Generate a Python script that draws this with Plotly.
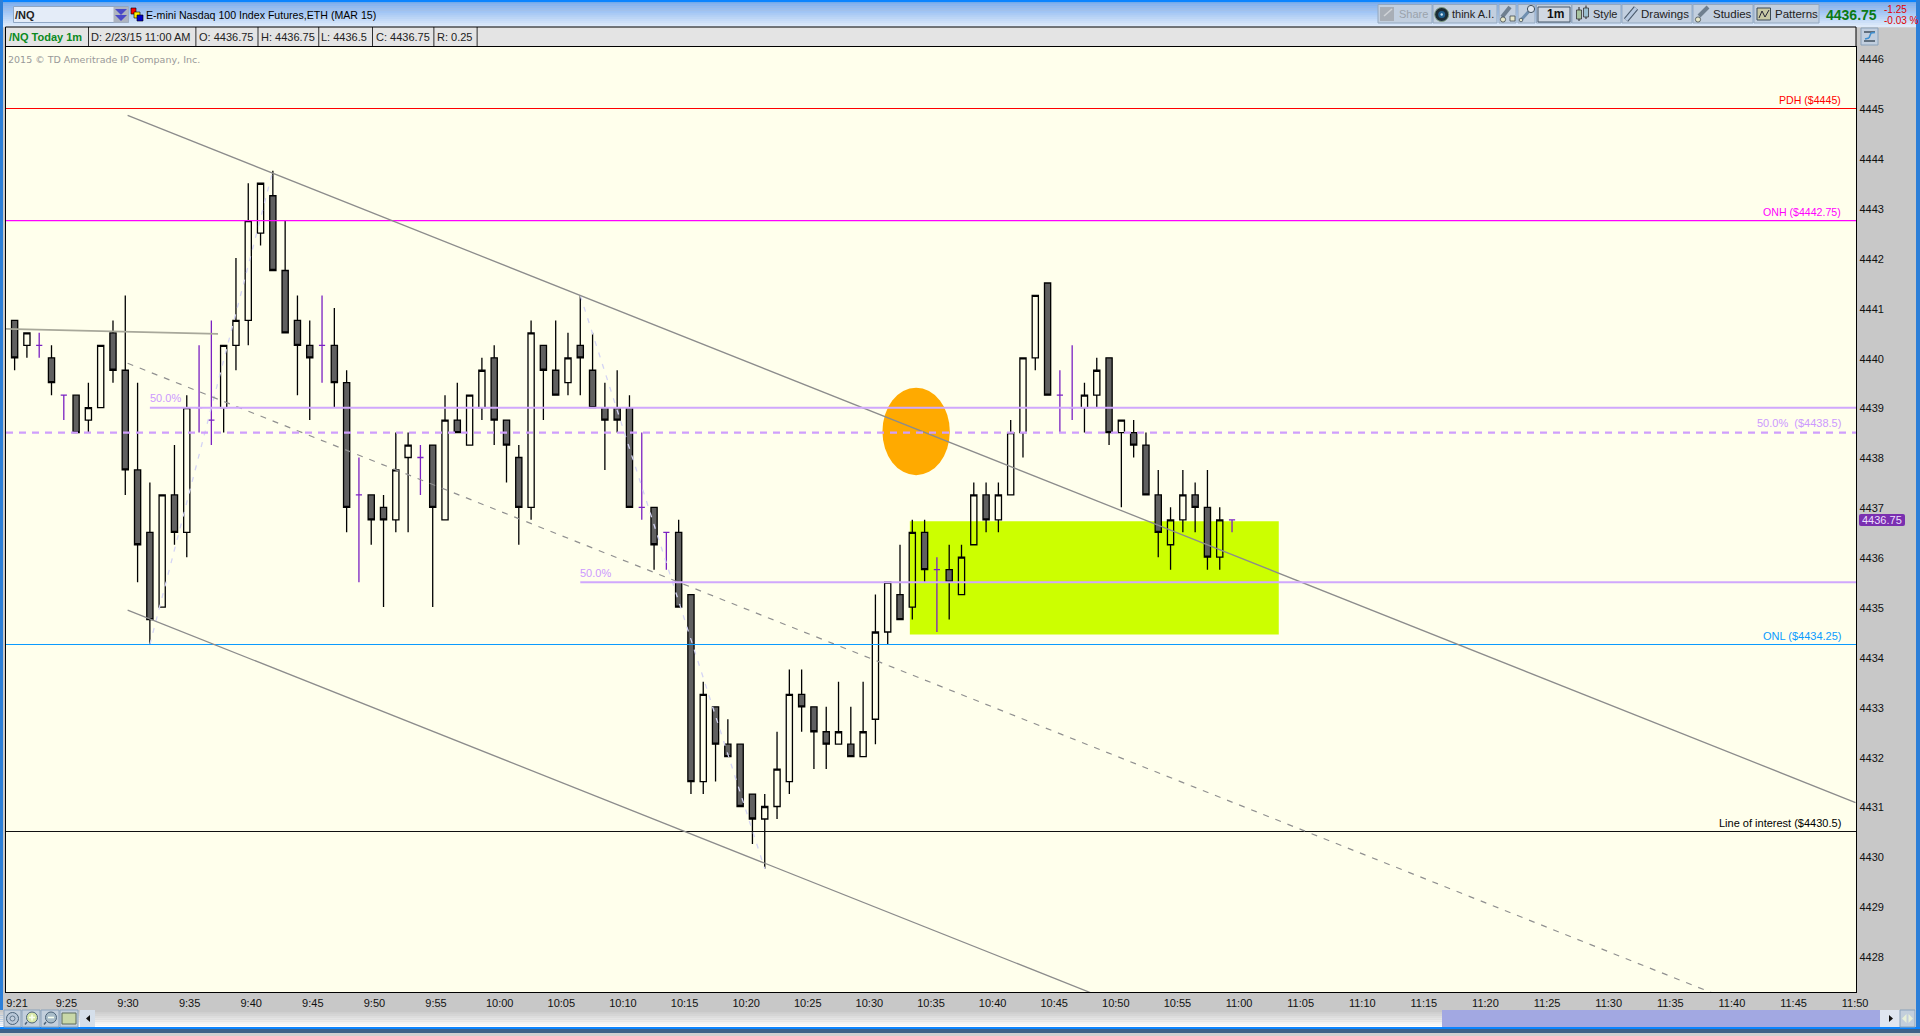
import plotly.graph_objects as go

# ---- data -----------------------------------------------------------------
open_ = [4440.75,4440.25,4440.25,4440.0,4439.25,4439.25,4438.75,4439.0,4440.5,4439.75,4437.75,4436.5,4435.0,4437.25,4436.5,4439.0,4438.75,4439.0,4440.25,4440.75,
         4442.5,4443.25,4441.75,4440.75,4440.25,4440.25,4440.25,4439.5,4437.25,4437.25,4437.0,4436.75,4438.0,4438.0,4438.25,4436.75,4438.75,4438.25,4439.0,4440.0,
         4438.75,4438.0,4437.0,4440.25,4439.75,4439.5,4440.25,4439.75,4439.0,4439.0,4439.0,4437.0,4437.0,4436.5,4436.5,4435.25,4431.5,4433.0,4432.25,4432.25,
         4431.25,4430.75,4431.0,4431.5,4433.25,4433.0,4432.5,4432.25,4432.25,4432.0,4432.75,4434.5,4435.25,4435.0,4436.5,4435.75,4435.75,4435.25,4436.25,4437.25,
         4436.75,4437.25,4438.5,4440.0,4441.5,4439.25,4439.0,4439.0,4439.25,4440.0,4438.5,4438.5,4438.25,4437.25,4436.25,4436.75,4437.25,4437.0,4436.0,4436.75]
high = [4440.75,4440.5,4440.5,4440.25,4439.25,4439.25,4439.5,4440.25,4440.75,4441.25,4439.5,4437.5,4437.25,4438.25,4439.25,4440.25,4440.75,4440.25,4442.0,4443.5,
        4443.5,4443.75,4442.75,4441.25,4440.75,4441.25,4441.0,4439.75,4438.0,4437.25,4437.25,4438.5,4438.5,4438.25,4438.25,4439.25,4439.5,4439.25,4440.0,4440.25,
        4438.75,4438.25,4440.75,4440.25,4440.75,4440.5,4441.25,4440.5,4439.5,4439.75,4439.25,4438.5,4437.0,4436.5,4436.75,4435.25,4433.5,4433.0,4432.75,4432.25,
        4431.25,4431.25,4432.5,4433.75,4433.75,4433.0,4433.0,4433.5,4433.0,4433.5,4435.25,4435.5,4436.25,4436.75,4436.75,4436.0,4436.25,4436.25,4437.5,4437.5,
        4437.5,4438.75,4440.0,4441.25,4441.5,4439.75,4440.25,4439.5,4440.0,4440.0,4438.75,4438.75,4438.5,4437.75,4437.0,4437.75,4437.5,4437.75,4437.0,4436.75]
low = [4439.75,4440.0,4440.0,4439.25,4438.75,4438.5,4438.5,4439.0,4439.5,4437.25,4435.5,4434.25,4435.0,4436.25,4436.0,4438.5,4438.25,4438.5,4439.75,4440.25,
       4442.25,4441.75,4440.5,4439.25,4438.75,4439.5,4439.0,4436.5,4435.5,4436.25,4435.0,4436.5,4436.5,4437.25,4435.0,4436.75,4438.5,4438.25,4438.75,4438.25,
       4437.5,4436.25,4436.75,4438.75,4439.25,4439.25,4439.25,4439.0,4437.75,4438.5,4437.0,4436.75,4435.75,4435.75,4435.0,4431.25,4431.25,4431.5,4432.0,4431.0,
       4430.25,4429.75,4430.75,4431.25,4432.5,4431.75,4431.75,4432.25,4432.0,4432.0,4432.25,4434.25,4434.75,4434.75,4435.5,4434.5,4434.75,4435.25,4436.25,4436.5,
       4436.5,4437.25,4438.0,4439.75,4439.25,4438.5,4438.75,4438.5,4439.0,4438.25,4437.0,4438.0,4437.25,4436.0,4435.75,4436.5,4436.5,4435.75,4435.75,4436.5]
close = [4440.0,4440.5,4440.25,4439.5,4439.25,4438.5,4439.0,4440.25,4439.75,4437.75,4436.25,4434.75,4437.25,4436.5,4439.0,4439.0,4438.75,4440.25,4440.75,4442.75,
         4443.5,4441.75,4440.5,4440.25,4440.0,4440.25,4439.5,4437.0,4437.25,4436.75,4436.75,4437.75,4438.25,4438.0,4437.0,4438.75,4438.5,4439.25,4439.75,4438.75,
         4438.25,4437.0,4440.5,4439.75,4439.25,4440.0,4440.0,4439.0,4438.75,4438.75,4437.0,4437.0,4436.25,4436.5,4435.0,4431.5,4433.25,4432.25,4432.0,4431.0,
         4430.75,4431.0,4431.75,4433.25,4433.0,4432.5,4432.25,4432.5,4432.0,4432.5,4434.5,4435.5,4434.75,4436.5,4435.75,4435.75,4435.5,4436.0,4437.25,4436.75,
         4437.25,4438.5,4440.0,4441.25,4439.25,4439.25,4439.0,4439.25,4439.75,4438.5,4438.75,4438.25,4437.25,4436.5,4436.75,4437.25,4437.0,4436.0,4436.75,4436.75]
bar_index = list(range(len(close)))

x_tick_labels = ["9:21","9:25","9:30","9:35","9:40","9:45","9:50","9:55","10:00","10:05","10:10","10:15","10:20","10:25","10:30",
                 "10:35","10:40","10:45","10:50","10:55","11:00","11:05","11:10","11:15","11:20","11:25","11:30","11:35","11:40","11:45","11:50"]
y_ticks = [4428,4429,4430,4431,4432,4433,4434,4435,4436,4437,4438,4439,4440,4441,4442,4443,4444,4445,4446]

x_range = [-0.70, 149.74]
y_range = [4427.28, 4446.233]

upper_channel_x = [9.19, 149.7]
upper_channel_y = [4444.86, 4431.08]
mid_channel_x = [9.19, 149.7]
mid_channel_y = [4439.89, 4426.12]
lower_channel_x = [9.19, 149.7]
lower_channel_y = [4434.94, 4421.17]
flat_line_x = [-0.70, 16.54]
flat_line_y = [4440.58, 4440.48]
swing_up_x = [11, 21]
swing_up_y = [4434.25, 4443.75]
swing_down_x = [46, 61]
swing_down_y = [4441.25, 4429.75]

pdh_level = 4445
onh_level = 4442.75
onl_level = 4434.25
interest_level = 4430.5
fib_a_level = 4439
fib_a_start = 11
fib_b_level = 4435.5
fib_b_start = 46
fib_mid_level = 4438.5

zone_x = [72.8, 102.8]
zone_y = [4434.45, 4436.72]
ellipse_x = [70.57, 76.05]
ellipse_y = [4437.645, 4439.40]

# ---- helpers --------------------------------------------------------------
W, H = 1920, 1036
PL, PR, PT, PB = 6, 1856, 47, 992
def px(x): return (x - PL) / (PR - PL)
def py(y): return 1 - (y - PT) / (PB - PT)
FONT = "Liberation Sans"

shapes = []
annots = []
def rect(x0, y0, x1, y1, fill, line=None, lw=1):
    shapes.append(dict(type="rect", xref="paper", yref="paper", x0=px(x0), x1=px(x1), y0=py(y0), y1=py(y1),
                       fillcolor=fill, line=dict(color=line or "rgba(0,0,0,0)", width=lw if line else 0), layer="below"))
def oval(cx, cy, r, fill, line=None, lw=1):
    shapes.append(dict(type="circle", xref="paper", yref="paper", x0=px(cx - r), x1=px(cx + r), y0=py(cy - r), y1=py(cy + r),
                       fillcolor=fill, line=dict(color=line or "rgba(0,0,0,0)", width=lw if line else 0), layer="below"))
def seg(x0, y0, x1, y1, color, w=1):
    shapes.append(dict(type="line", xref="paper", yref="paper", x0=px(x0), x1=px(x1), y0=py(y0), y1=py(y1),
                       line=dict(color=color, width=w), layer="below"))
def poly(points, fill):
    d = "M " + " L ".join(f"{px(a)} {py(b)}" for a, b in points) + " Z"
    shapes.append(dict(type="path", xref="paper", yref="paper", layer="below", line=dict(width=0), fillcolor=fill, path=d))
def text(x, y, s, color="#000", size=11, anchor="left", family=FONT):
    annots.append(dict(xref="paper", yref="paper", x=px(x), y=py(y), text=s, showarrow=False, xanchor=anchor, yanchor="middle",
                       font=dict(family=family, size=size, color=color), borderpad=0, borderwidth=0))
def lerp(a, b, t):
    return "#%02x%02x%02x" % tuple(round(a[i] + (b[i] - a[i]) * t) for i in range(3))

# window frame
rect(0, 0, 1920, 2.5, "#0a84ff")
for k in range(12):
    y0 = 2.5 + k * 2.05
    rect(0, y0, 1920, y0 + 2.2, lerp((125, 175, 240), (222, 234, 250), k / 11))
rect(0, 0, 3, 1032, "#2c7fd8")
rect(1916, 0, 1920, 1032, "#2c7fd8")
rect(5.5, 27, 1856, 46.5, "#e4e4e4", "#000", 1)
for sx in [88, 195.5, 257.6, 318.4, 372, 433.5, 476.7]:
    rect(sx, 27, sx + 0.8, 46.5, "#000")
# bottom strip
for k in range(9):
    y0 = 1010 + k * 1.9
    rect(0, y0, 1442, y0 + 2, lerp((200, 200, 200), (255, 255, 255), k / 8))
rect(1442, 1010, 1880, 1027, "#a2a8e2")
rect(1880, 1010, 1916, 1027, "#dfe6f0")
rect(0, 1027, 1920, 1029, "#0a84ff")
rect(0, 1029, 1920, 1033, "#3d6288")
rect(0, 1033, 1920, 1036, "#d0d0d0")
rect(80, 1010, 95, 1027, "#d5dfea")
poly([(86, 1018.5), (90, 1015), (90, 1022)], "#111")
poly([(1889, 1015), (1893, 1018.5), (1889, 1022)], "#111")
for x0, x1 in [(4, 21), (22, 40), (41, 59), (60, 78)]:
    rect(x0, 1010, x1, 1027, "#c3cfdc", "#8aa2bb", 1)
oval(12.5, 1018.5, 6, "#b9c8d8", "#4b6278", 1)
oval(12.5, 1018.5, 2.5, "#c3cfdc", "#4b6278", 0.8)
oval(32, 1017.5, 5.5, "#d8e8a8", "#4b6278", 1)
seg(29, 1017.5, 35, 1017.5, "#f8fff0", 1.6)
seg(32, 1014.5, 32, 1020.5, "#f8fff0", 1.6)
seg(27, 1022, 25, 1024.5, "#4b6278", 1.5)
oval(51, 1017.5, 5.5, "#a8bcc8", "#4b6278", 1)
seg(48, 1017.5, 54, 1017.5, "#f8fff0", 1.6)
seg(46, 1022, 44, 1024.5, "#4b6278", 1.5)
rect(62, 1013, 76, 1024, "#c9d8a8", "#5d6d5d", 1)
rect(1900, 1010, 1915, 1027, "#c3cfdc", "#8aa2bb", 1)
poly([(1906.5, 1014), (1902, 1018.5), (1906.5, 1023)], "#e8f0d8")
poly([(1908.5, 1014), (1913, 1018.5), (1908.5, 1023)], "#e8f0d8")

# header
rect(13.5, 6.5, 128.5, 22.5, "#e4ecf8", "#8fa6c4", 1)
rect(113.5, 7, 128.5, 22.5, "#aeb4bf")
text(15, 15, "<b>/NQ</b>", "#222", 11)
poly([(115, 9), (127, 9), (121, 15)], "#4a4ac8")
poly([(115, 15), (127, 15), (121, 21)], "#4a4ac8")
rect(131, 8, 136, 14, "#ff0000", "#000", 0.6)
rect(134, 12, 140, 18, "#ffee00", "#000", 0.6)
rect(137, 15, 143, 21, "#0000cc", "#000", 0.6)
text(145.5, 15, "E-mini Nasdaq 100 Index Futures,ETH (MAR 15)", "#000", 10.6)
text(9, 37.5, "<b>/NQ Today 1m</b>", "#0a8a1e", 11)
for tx, s in [(91, "D: 2/23/15 11:00 AM"), (199, "O: 4436.75"), (260.5, "H: 4436.75"), (321, "L: 4436.5"),
              (375.5, "C: 4436.75"), (436.5, "R: 0.25")]:
    text(tx, 37.5, s, "#222", 11)
text(8, 60, "2015 © TD Ameritrade IP Company, Inc.", "#999", 9.5, family="DejaVu Sans")

# toolbar
buttons = [(1378, 1432), (1433, 1497), (1499, 1516), (1518, 1535), (1536.5, 1571.5), (1572, 1621), (1622, 1692), (1693, 1753), (1754, 1819)]
for x0, x1 in buttons:
    rect(x0, 4.5, x1, 23, "#c2cfdf", "#93a8c0", 1)
rect(1538, 7, 1570, 22, "#d0d8e2", "#44566a", 1)
rect(1380, 7, 1394, 21, "#a8aeb6")
seg(1384, 16, 1392, 9, "#d0d4d8", 1.6)
oval(1441.7, 14.5, 7, "#1c2c36", "#7d9a80", 1)
oval(1441.7, 14.5, 3.5, "#20608f")
oval(1441.7, 14.5, 1.2, "#d5e8f5")
seg(1502, 17, 1510, 7, "#6f7f8f", 4)
oval(1503, 19.5, 2.6, "#e6e6c8", "#404a50", 0.8)
rect(1510, 16, 1515, 21, "#e6e6c8", "#404a50", 0.8)
seg(1521, 20, 1530, 10, "#6f8fb0", 3)
oval(1531, 9, 3.6, "#dfe6ee", "#40505f", 1)
oval(1521, 20, 1.8, "#e6e6c8", "#40505f", 0.8)
seg(1579, 7, 1579, 21, "#222", 1)
rect(1576.5, 10, 1581.5, 19, "#a8c4a0", "#333", 0.8)
seg(1586, 5.5, 1586, 19, "#222", 1)
rect(1583.5, 8, 1588.5, 17, "#9cc0d0", "#333", 0.8)
seg(1626, 20, 1636, 8, "#49596b", 5.5)
seg(1626, 20, 1636, 8, "#b7c9e0", 3.4)
seg(1699, 16, 1708, 7, "#6f7f8f", 4)
oval(1698, 19.5, 2.6, "#e6e6c8", "#404a50", 0.8)
rect(1757, 8, 1770.5, 20, "#c9c9a5", "#3c4a56", 1)
seg(1759, 18, 1762, 11, "#223", 1)
seg(1762, 11, 1765, 17, "#223", 1)
seg(1765, 17, 1769, 10, "#223", 1)
text(1399, 13.5, "Share", "#9aa3ac", 11)
text(1452, 14, "think A.I.", "#222", 11)
text(1547, 14.5, "<b>1m</b>", "#111", 12)
text(1593, 14, "Style", "#222", 11)
text(1641, 14, "Drawings", "#222", 11.5)
text(1713, 14, "Studies", "#222", 11.5)
text(1775, 14, "Patterns", "#222", 11.5)
text(1826, 15, "<b>4436.75</b>", "#0a7a14", 14)
text(1883.5, 9.5, "-1.25", "#e00000", 10)
text(1883.5, 20, "-0.03 %", "#e00000", 10)
rect(1861, 28, 1878, 45, "#c2cfdf", "#8aa2bb", 1)
seg(1864, 41, 1875, 41, "#20303f", 1.2)
seg(1864, 32, 1875, 32, "#20303f", 1.2)
seg(1865, 39, 1869, 38, "#3f8fd0", 1.6)
seg(1869, 38, 1871, 33, "#3f8fd0", 1.6)
seg(1871, 33, 1875, 32.5, "#3f8fd0", 1.6)

# labels on chart
text(1840.5, 100, "PDH ($4445)", "#ff0000", 10.6, "right")
text(1840.5, 212, "ONH ($4442.75)", "#ff00ff", 10.6, "right")
text(1840.5, 423, "50.0%&nbsp;&nbsp;($4438.5)", "#cc99ff", 11, "right")
text(1840.5, 636, "ONL ($4434.25)", "#0a9bff", 11, "right")
text(1840.5, 823, "Line of interest ($4430.5)", "#000", 11, "right")
text(150, 398, "50.0%", "#cc99ff", 11)
text(580, 573, "50.0%", "#cc99ff", 11)

# last-price tag
shapes.append(dict(type="path", xref="paper", yref="paper", layer="below", line=dict(width=0), fillcolor="#7a2fb0",
                   path=(f"M {px(1861)} {py(514)} L {px(1903)} {py(514)} Q {px(1905)} {py(514)} {px(1905)} {py(516)} L {px(1905)} {py(524)} "
                         f"Q {px(1905)} {py(526)} {px(1903)} {py(526)} L {px(1861)} {py(526)} Q {px(1859)} {py(526)} {px(1859)} {py(524)} "
                         f"L {px(1859)} {py(516)} Q {px(1859)} {py(514)} {px(1861)} {py(514)} Z")))
text(1882, 520, "4436.75", "#ecdfff", 11, "center")

# data-space background objects
shapes.append(dict(type="rect", xref="x", yref="y", x0=zone_x[0], x1=zone_x[1], y0=zone_y[0], y1=zone_y[1],
                   fillcolor="#ccff00", line=dict(width=0), layer="below"))
shapes.append(dict(type="circle", xref="x", yref="y", x0=ellipse_x[0], x1=ellipse_x[1], y0=ellipse_y[0], y1=ellipse_y[1],
                   fillcolor="#ffaa00", line=dict(width=0), layer="below"))

# ---- traces ---------------------------------------------------------------
fig = go.Figure()

def line_trace(x, y, color, width=1.1, dash="solid"):
    fig.add_trace(go.Scatter(x=x, y=y, mode="lines", line=dict(color=color, width=width, dash=dash), hoverinfo="skip", showlegend=False))

line_trace(swing_up_x, swing_up_y, "#d4d4f4", 1.3, "5px,7px")
line_trace(swing_down_x, swing_down_y, "#d4d4f4", 1.3, "5px,7px")

nd = [i for i in bar_index if open_[i] != close[i]]
dj = [i for i in bar_index if open_[i] == close[i]]
fig.add_trace(go.Candlestick(
    x=[bar_index[i] for i in nd], open=[open_[i] for i in nd], high=[high[i] for i in nd],
    low=[low[i] for i in nd], close=[close[i] for i in nd],
    increasing=dict(line=dict(color="#000", width=1.3), fillcolor="rgba(0,0,0,0)"),
    decreasing=dict(line=dict(color="#000", width=1.3), fillcolor="#606060"),
    whiskerwidth=0, hoverinfo="skip", showlegend=False))
fig.add_trace(go.Candlestick(
    x=[bar_index[i] for i in dj], open=[open_[i] for i in dj], high=[high[i] for i in dj],
    low=[low[i] for i in dj], close=[close[i] for i in dj],
    increasing=dict(line=dict(color="#7b22c2", width=1.3), fillcolor="rgba(0,0,0,0)"),
    decreasing=dict(line=dict(color="#7b22c2", width=1.3), fillcolor="rgba(0,0,0,0)"),
    whiskerwidth=0, hoverinfo="skip", showlegend=False))

line_trace(x_range, [pdh_level] * 2, "#ff0000")
line_trace(x_range, [onh_level] * 2, "#ff00ff")
line_trace(x_range, [onl_level] * 2, "#0a9bff")
line_trace(x_range, [interest_level] * 2, "#111111")
line_trace(flat_line_x, flat_line_y, "#a8a89a", 1.8)
line_trace(upper_channel_x, upper_channel_y, "#8c8c8c", 1.3)
line_trace(lower_channel_x, lower_channel_y, "#8c8c8c", 1.3)
line_trace(mid_channel_x, mid_channel_y, "#909090", 1.2, "6px,7px")
line_trace([fib_a_start, x_range[1]], [fib_a_level] * 2, "#d0a8fc", 2)
line_trace([fib_b_start, x_range[1]], [fib_b_level] * 2, "#d0a8fc", 2)
line_trace(x_range, [fib_mid_level] * 2, "#cf9ffc", 2.2, "7px,6px")

tick_positions = [0, 4] + [9 + 5 * k for k in range(len(x_tick_labels) - 2)]
tick_values = [t + 0.2 + 0.3 * t / 149 + (0.17 if len(lbl) == 5 else 0) for t, lbl in zip(tick_positions, x_tick_labels)]

fig.update_layout(
    width=W, height=H, autosize=False,
    margin=dict(l=PL, r=W - PR, t=PT, b=H - PB, pad=0),
    paper_bgcolor="#c8c8c8", plot_bgcolor="#ffffec",
    showlegend=False, hovermode=False, boxgap=0.28, boxmode="overlay",
    shapes=shapes, annotations=annots,
    font=dict(family=FONT, size=11, color="#000"),
    xaxis=dict(range=x_range, rangeslider=dict(visible=False), tickmode="array",
               tickvals=tick_values, ticktext=x_tick_labels, showgrid=False, zeroline=False,
               ticks="", showline=True, linecolor="#000", linewidth=1.2, mirror=True, tickangle=0, ticklabelstandoff=1,
               tickfont=dict(family=FONT, size=11, color="#111"), fixedrange=True, automargin=False),
    yaxis=dict(range=y_range, side="right", tickmode="array", tickvals=y_ticks, ticktext=[str(v) for v in y_ticks],
               showgrid=False, zeroline=False, ticks="", showline=True, linecolor="#000", linewidth=1.2, mirror=True,
               ticklabelshift=1,
               tickfont=dict(family=FONT, size=11, color="#111"), fixedrange=True, automargin=False),
)

fig.write_html("out.html", config=dict(displayModeBar=False, staticPlot=True),
               post_script="document.body.style.margin='0';document.documentElement.style.overflow='hidden';")
